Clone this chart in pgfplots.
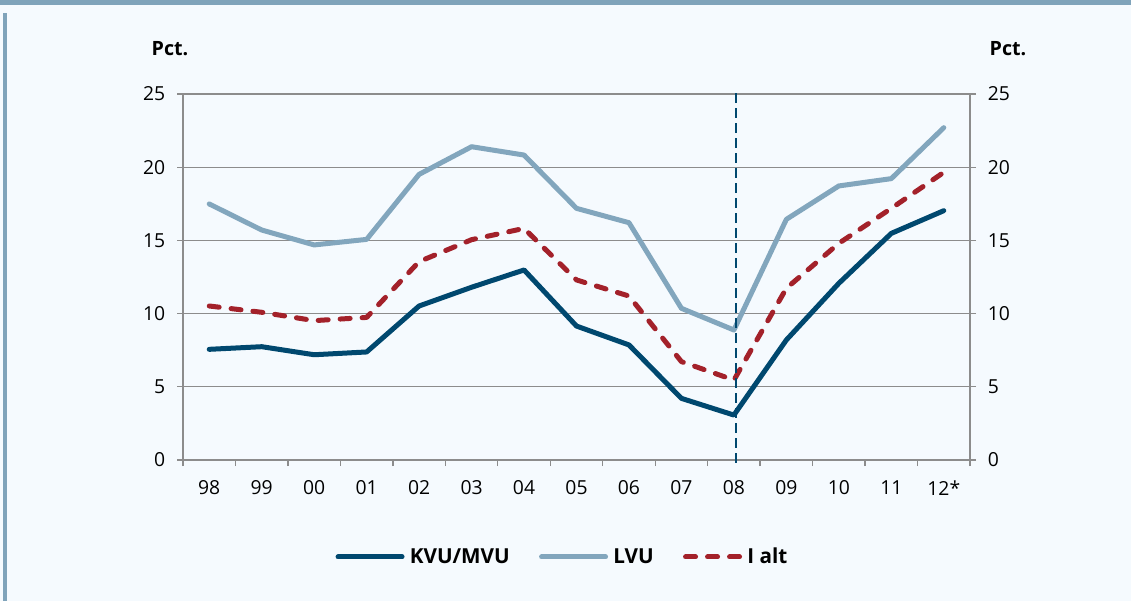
\documentclass[border=0pt]{standalone}
\usepackage{fontspec}
\setmainfont{Open Sans}
\usepackage{pgfplots}
\pgfplotsset{compat=1.18}
\definecolor{bg}{HTML}{F5FAFE}
\definecolor{framec}{HTML}{7FA3BA}
\definecolor{kvu}{HTML}{00486F}
\definecolor{lvu}{HTML}{82A6BD}
\definecolor{ialt}{HTML}{A3212A}
\definecolor{gridc}{HTML}{8C8C8C}
\pgfplotsset{
  solidleg/.style={legend image code/.code={\draw[##1] (0pt,0pt) -- (38.4pt,0pt);}},
  dashleg/.style={legend image code/.code={\draw[##1] (0pt,0pt) -- (32.4pt,0pt);}},
}
\begin{document}
\begin{tikzpicture}
\def\u{0.6pt}
\fill[bg] (0,0) rectangle (1131*\u,601*\u);
\useasboundingbox (0,0) rectangle (1131*\u,601*\u);
\fill[framec] (0,596*\u) rectangle (1131*\u,601*\u);
\fill[framec] (3*\u,0) rectangle (7*\u,588*\u);
\node[font=\bfseries\fontsize{11.8}{14}\selectfont] at (170*\u,552*\u) {Pct.};
\node[font=\bfseries\fontsize{11.8}{14}\selectfont] at (1008*\u,552*\u) {Pct.};
\pgfplotsset{
  common/.style={
    at={(183*\u,141*\u)}, anchor=south west,
    scale only axis, width=787*\u, height=366*\u,
    xmin=-0.5, xmax=14.5, ymin=0, ymax=25,
    ytick={0,5,...,25},
    tick align=outside, major tick length=6*\u,
    tick style={gridc, line width=0.8pt},
    axis line style={gridc, line width=0.8pt},
    /pgf/number format/assume math mode=true,
    ticklabel style={font=\fontsize{11.6}{13}\selectfont, text=black},
    clip=false,
  }
}
\begin{axis}[common,
  axis x line*=bottom, axis y line*=left,
  ymajorgrids, grid style={gridc, line width=0.8pt},
  xtick={-0.5,0.5,...,14.5},
  xticklabels={98,99,00,01,02,03,04,05,06,07,08,09,10,11,12*,{}},
  xticklabel style={xshift=26.235*\u, yshift=-9*\u},
  yticklabel style={xshift=-6*\u},
  legend style={at={(0.483,-0.265)}, anchor=center, draw=none, fill=none,
    legend columns=3, font=\bfseries\fontsize{12.4}{14}\selectfont,
    /tikz/every even column/.append style={column sep=15.6pt},
    /tikz/every odd column/.append style={column sep=1.2pt}},
  legend cell align=left,
]
\addplot[kvu, line width=3pt, line join=round, line cap=round, solidleg]
  coordinates {(0,7.56)(1,7.74)(2,7.19)(3,7.38)(4,10.52)(5,11.8)(6,12.98)(7,9.15)(8,7.86)(9,4.21)(10,3.07)(11,8.2)(12,12.07)(13,15.48)(14,17.03)};
\addlegendentry{KVU/MVU}
\addplot[lvu, line width=3pt, line join=round, line cap=round, solidleg]
  coordinates {(0,17.49)(1,15.71)(2,14.69)(3,15.07)(4,19.51)(5,21.4)(6,20.83)(7,17.19)(8,16.21)(9,10.36)(10,8.88)(11,16.44)(12,18.72)(13,19.22)(14,22.7)};
\addlegendentry{LVU}
\addplot[ialt, line width=3pt, line join=round, line cap=round, dash pattern=on 6pt off 7.2pt, dashleg]
  coordinates {(0,10.52)(1,10.09)(2,9.52)(3,9.74)(4,13.55)(5,15.05)(6,15.82)(7,12.30)(8,11.2)(9,6.72)(10,5.46)(11,11.73)(12,14.8)(13,17.19)(14,19.65)};
\addlegendentry{I alt}
\addplot[kvu, line width=0.9pt, dash pattern=on 6pt off 3pt, forget plot]
  coordinates {(10.04,-0.2)(10.04,25.3)};
\end{axis}
\begin{axis}[common,
  axis x line=none, axis y line*=right,
  yticklabel style={xshift=6*\u},
]
\addplot[draw=none, forget plot] coordinates {(0,0)(14,25)};
\end{axis}
\end{tikzpicture}
\end{document}
